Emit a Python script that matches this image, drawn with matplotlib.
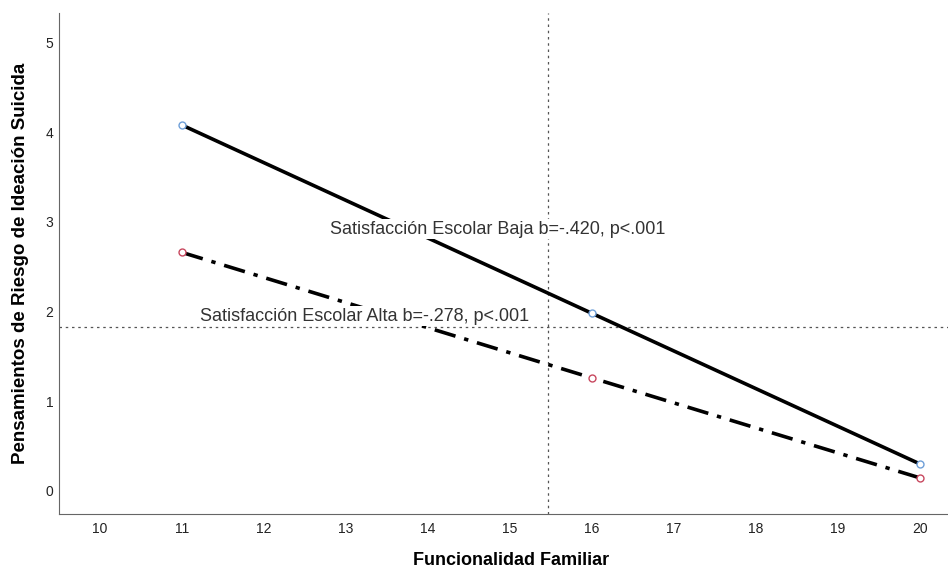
import matplotlib.pyplot as plt

plt.rcParams["font.family"] = ["Liberation Sans", "DejaVu Sans"]

# data
x_vals = [11, 16, 20]
baja = [4.08, 1.98, 0.30]
alta = [2.66, 1.26, 0.145]
x_ticks = list(range(10, 21))
y_ticks = [0, 1, 2, 3, 4, 5]
ref_x = 15.46
ref_y = 1.83
label_baja = "Satisfacción Escolar Baja b=-.420, p<.001"
label_alta = "Satisfacción Escolar Alta b=-.278, p<.001"

fig = plt.figure(figsize=(9.48, 5.69), dpi=100)
ax = fig.add_axes([59 / 948, 1 - 514 / 569, (948 - 59) / 948, (514 - 13) / 569])

ax.axvline(ref_x, color="#555555", linestyle=(0, (2, 3)), linewidth=0.9, zorder=1)
ax.axhline(ref_y, color="#555555", linestyle=(0, (2, 3)), linewidth=0.9, zorder=1)

ax.plot(x_vals, baja, color="black", linewidth=2.6, solid_capstyle="butt", zorder=3)
ax.plot(x_vals, alta, color="black", linewidth=2.6, linestyle=(0, (6, 2.5, 1.2, 2.5)),
        dash_capstyle="butt", zorder=3)
ax.plot(x_vals, baja, linestyle="none", marker="o", markersize=5, markerfacecolor="white",
        markeredgecolor="#6f9fd8", markeredgewidth=1.0, zorder=4)
ax.plot(x_vals, alta, linestyle="none", marker="o", markersize=5, markerfacecolor="white",
        markeredgecolor="#c8485f", markeredgewidth=1.0, zorder=4)

box = dict(facecolor="white", edgecolor="none", pad=1.0)
ax.text(14.85, 2.92, label_baja, ha="center", va="center", fontsize=13,
        color="#333333", bbox=box, zorder=5)
ax.text(13.22, 1.95, label_alta, ha="center", va="center", fontsize=13,
        color="#333333", bbox=box, zorder=5)

ax.set_xlim(9.5, 20.34)
ax.set_ylim(-0.257, 5.33)
ax.set_xticks(x_ticks)
ax.set_yticks(y_ticks)
ax.tick_params(length=0, labelsize=10, colors="#222222")
ax.tick_params(axis="x", pad=6)
ax.tick_params(axis="y", pad=4)
ax.spines["top"].set_visible(False)
ax.spines["right"].set_visible(False)
ax.spines["left"].set_color("#666666")
ax.spines["bottom"].set_color("#666666")

ax.set_xlabel("Funcionalidad Familiar", fontsize=13, fontweight="bold")
ax.xaxis.set_label_coords(0.508, -0.076)
ax.set_ylabel("Pensamientos de Riesgo de Ideación Suicida", fontsize=13.5,
              fontweight="bold")
ax.yaxis.set_label_coords(-0.034, 0.5)

fig.savefig("out.png", dpi=100)
